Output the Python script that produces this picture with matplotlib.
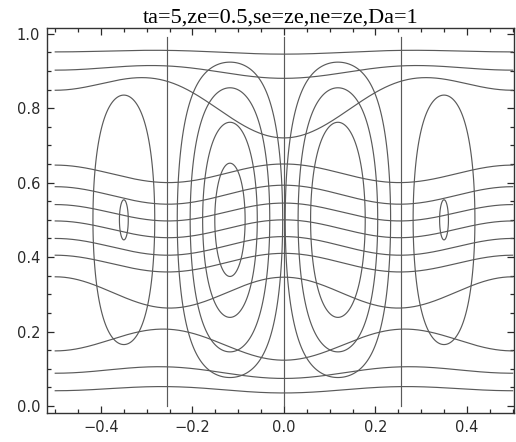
import numpy as np
import matplotlib
matplotlib.use('Agg')
import matplotlib.pyplot as plt
from matplotlib.ticker import MultipleLocator

# closed cells: centre, width, contour levels (fraction of cell peak)
cell_x = [-0.35, -0.118, 0.118, 0.35]
cell_s = [0.057, 0.068, 0.068, 0.057]
cell_levels = [
    [0.4955, 0.9857],
    [0.238, 0.441, 0.68, 0.888],
    [0.238, 0.441, 0.68],
    [0.4955, 0.9857],
]

# open streamlines: height at x=+-0.5, at the pinch x=+-0.25 and at x=0
line_edge = [0.041, 0.088, 0.148, 0.347, 0.405, 0.450, 0.497, 0.541, 0.589, 0.647, 0.848, 0.902, 0.951]
line_pinch = [0.052, 0.105, 0.206, 0.263, 0.360, 0.405, 0.452, 0.497, 0.542, 0.600, 0.870, 0.913, 0.955]
line_center = [0.035, 0.074, 0.123, 0.346, 0.410, 0.455, 0.500, 0.545, 0.593, 0.650, 0.720, 0.880, 0.945]

# vertical lines
vline_x = [-0.255, 0.0, 0.255]

title = 'ta=5,ze=0.5,se=ze,ne=ze,Da=1'
col = '#5a5a5a'
lw = 0.85

fig = plt.figure(figsize=(5.16, 4.42), dpi=100)
ax = fig.add_axes([47 / 516, 29.3 / 442, 467 / 516, 385 / 442])

xs = np.linspace(-0.5, 0.5, 801)
ys = np.linspace(0.0, 1.0, 801)
X, Y = np.meshgrid(xs, ys)

for xc, s, lev in zip(cell_x, cell_s, cell_levels):
    psi = np.sin(np.pi * Y) * np.exp(-(X - xc) ** 2 / (2 * s ** 2))
    ax.contour(X, Y, psi, levels=sorted(lev), colors=col, linewidths=lw)

for e, p, c in zip(line_edge, line_pinch, line_center):
    a1 = (c - e) / 2
    a0 = ((c + e) / 2 + p) / 2
    a2 = ((c + e) / 2 - p) / 2
    ax.plot(xs, a0 + a1 * np.cos(2 * np.pi * xs) + a2 * np.cos(4 * np.pi * xs),
            color=col, lw=lw)

for vx in vline_x:
    ax.plot([vx, vx], [0.0, 0.99], color=col, lw=lw)

ax.set_xlim(-0.518, 0.503)
ax.set_ylim(-0.018, 1.016)
ax.xaxis.set_major_locator(MultipleLocator(0.2))
ax.xaxis.set_minor_locator(MultipleLocator(0.05))
ax.yaxis.set_major_locator(MultipleLocator(0.2))
ax.yaxis.set_minor_locator(MultipleLocator(0.05))
ax.xaxis.set_major_formatter(matplotlib.ticker.FuncFormatter(
    lambda v, pos: ('%.1f' % v).replace('-', '\u2212')))
ax.yaxis.set_major_formatter(matplotlib.ticker.FormatStrFormatter('%.1f'))
ax.tick_params(which='both', direction='in', top=True, right=True, colors='#2a2a2a',
               labelsize=10.5, width=0.9)
ax.tick_params(which='major', length=5, pad=5)
ax.tick_params(which='minor', length=3)
for sp in ax.spines.values():
    sp.set_color('#333333')
    sp.set_linewidth(1.0)

ax.set_title(title, fontfamily='Liberation Serif', fontsize=16, pad=3)

fig.savefig('out.png', dpi=100)
